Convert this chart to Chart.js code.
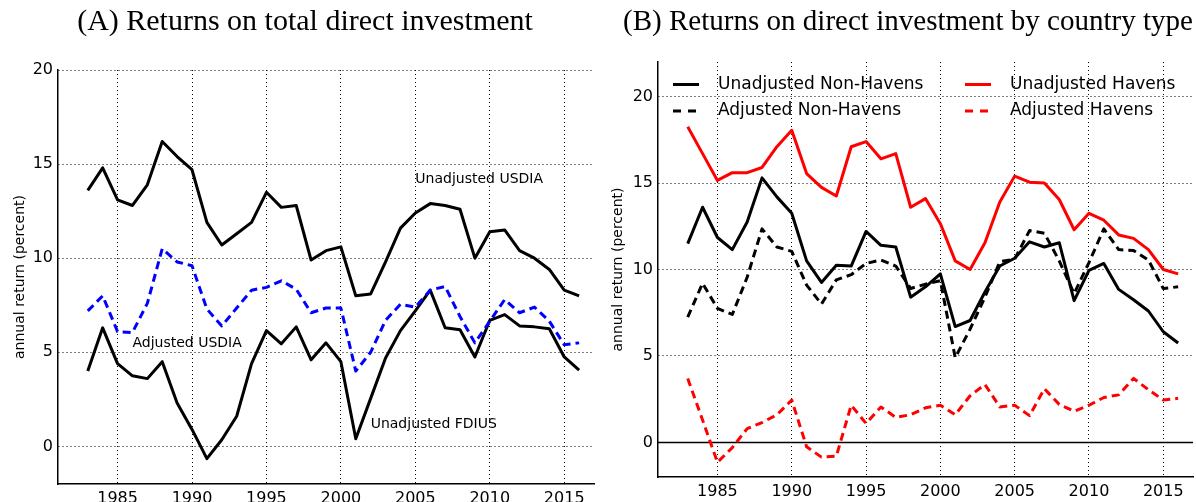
<!DOCTYPE html>
<html>
<head>
<meta charset="utf-8">
<script src="https://cdn.jsdelivr.net/npm/chart.js@4.4.1/dist/chart.umd.min.js"></script>
<style>
  body { margin: 0; background: #fff; }
  #wrap { position: relative; width: 1196px; height: 502px; overflow: hidden; }
  #panel-a { position: absolute; left: 0; top: 0; }
  #panel-b { position: absolute; left: 598px; top: 0; }
</style>
</head>
<body>
<div id="wrap">
  <canvas id="panel-a" width="598" height="502"></canvas>
  <canvas id="panel-b" width="598" height="502"></canvas>
</div>
<script>
const years = [1983, 1984, 1985, 1986, 1987, 1988, 1989, 1990, 1991, 1992, 1993, 1994,
  1995, 1996, 1997, 1998, 1999, 2000, 2001, 2002, 2003, 2004, 2005, 2006, 2007, 2008,
  2009, 2010, 2011, 2012, 2013, 2014, 2015, 2016];
const xTicks = [1985, 1990, 1995, 2000, 2005, 2010, 2015];
const yTicks = [0, 5, 10, 15, 20];

// panel A
const usdiaUnadj = [13.6, 14.8, 13.1, 12.8, 13.9, 16.2, 15.4, 14.7, 11.9, 10.7, 11.3, 11.9,
  13.5, 12.7, 12.8, 9.9, 10.4, 10.6, 8.0, 8.1, 9.8, 11.6, 12.4, 12.9, 12.8, 12.6,
  10.0, 11.4, 11.5, 10.4, 10.0, 9.4, 8.3, 8.0];
const usdiaAdj = [7.2, 8.0, 6.1, 6.05, 7.6, 10.5, 9.8, 9.6, 7.3, 6.4, 7.35, 8.3,
  8.45, 8.8, 8.35, 7.1, 7.35, 7.35, 4.0, 5.0, 6.7, 7.55, 7.4, 8.3, 8.5, 6.9,
  5.5, 6.65, 7.8, 7.1, 7.4, 6.65, 5.4, 5.5];
const fdiusUnadj = [4.0, 6.3, 4.4, 3.75, 3.6, 4.5, 2.3, 0.9, -0.65, 0.35, 1.6, 4.4,
  6.15, 5.45, 6.35, 4.6, 5.5, 4.5, 0.4, 2.55, 4.7, 6.15, 7.2, 8.3, 6.3, 6.2,
  4.75, 6.7, 7.0, 6.4, 6.35, 6.25, 4.75, 4.05];

// panel B
const nonHavensUnadj = [11.5, 13.6, 11.85, 11.15, 12.75, 15.3, 14.2, 13.25, 10.5, 9.25, 10.25, 10.2,
  12.2, 11.4, 11.3, 8.4, 9.0, 9.75, 6.7, 7.05, 8.7, 10.2, 10.65, 11.6, 11.3, 11.55,
  8.2, 9.95, 10.35, 8.85, 8.25, 7.6, 6.4, 5.75];
const nonHavensAdj = [7.25, 9.2, 7.75, 7.4, 9.55, 12.35, 11.3, 11.05, 9.1, 8.0, 9.4, 9.7,
  10.35, 10.55, 10.2, 8.9, 9.15, 9.35, 4.9, 6.55, 8.4, 10.45, 10.6, 12.25, 12.1, 10.5,
  8.6, 10.4, 12.35, 11.15, 11.1, 10.55, 8.9, 9.0];
const havensUnadj = [18.25, 16.7, 15.15, 15.6, 15.6, 15.9, 17.1, 18.05, 15.55, 14.75, 14.25, 17.1,
  17.4, 16.4, 16.7, 13.6, 14.1, 12.65, 10.5, 10.0, 11.55, 13.9, 15.4, 15.05, 15.0, 14.05,
  12.3, 13.25, 12.85, 12.0, 11.8, 11.15, 10.0, 9.75];
const havensAdj = [3.7, 1.3, -1.15, -0.3, 0.8, 1.15, 1.6, 2.45, -0.25, -0.85, -0.8, 2.15,
  1.1, 2.05, 1.45, 1.6, 2.0, 2.15, 1.6, 2.7, 3.35, 2.05, 2.15, 1.55, 3.1, 2.2,
  1.8, 2.15, 2.6, 2.75, 3.7, 3.05, 2.45, 2.55];

const pts = vals => years.map((yr, i) => ({ x: yr, y: vals[i] }));

const sansFont = 'DejaVu Sans';
const gridColor = '#000';

function line(label, vals, color, dashed) {
  return {
    label: label,
    data: pts(vals),
    borderColor: color,
    borderWidth: 3,
    borderDash: dashed ? [8, 5] : [],
    borderJoinStyle: 'round',
    pointRadius: 0,
    tension: 0,
    fill: false
  };
}

// yWidth + layout left padding gives the plot's left edge;
// titlePad moves the rotated axis title back to the canvas edge
function scales(yMin, yMax, yWidth, xHeight, titlePad) {
  return {
    x: {
      type: 'linear',
      min: 1981,
      max: 2017,
      afterBuildTicks: ax => { ax.ticks = xTicks.map(v => ({ value: v })); },
      afterFit: ax => { ax.height = xHeight; },
      grid: { color: gridColor, lineWidth: 1, drawTicks: false },
      border: { display: true, color: '#000', width: 1.5, dash: [1, 3] },
      ticks: {
        color: '#000',
        font: { family: sansFont, size: 16 },
        padding: 5,
        maxRotation: 0,
        callback: v => String(v)
      }
    },
    y: {
      min: yMin,
      max: yMax,
      afterBuildTicks: ax => { ax.ticks = yTicks.map(v => ({ value: v })); },
      afterFit: ax => { ax.width = yWidth; },
      grid: { color: gridColor, lineWidth: 1, drawTicks: false },
      border: { display: true, color: '#000', width: 1.5, dash: [1, 3] },
      ticks: {
        color: '#000',
        font: { family: sansFont, size: 16 },
        padding: 5,
        callback: v => String(v)
      },
      title: {
        display: true,
        text: 'annual return (percent)',
        color: '#000',
        font: { family: sansFont, size: 14 },
        padding: { top: titlePad }
      }
    }
  };
}

function titleOpts(text, bottom) {
  return {
    display: true,
    text: text,
    color: '#000',
    font: { family: 'Liberation Serif', size: 30, weight: 'normal' },
    padding: { top: 4, bottom: bottom }
  };
}

// text labels placed at data coordinates
const notes = {
  id: 'notes',
  afterDatasetsDraw(chart, args, opts) {
    const { ctx, scales: { x, y } } = chart;
    ctx.save();
    ctx.font = '14px ' + sansFont;
    ctx.fillStyle = '#000';
    ctx.textBaseline = 'alphabetic';
    (opts.items || []).forEach(n => {
      ctx.fillText(n.text, x.getPixelForValue(n.x), y.getPixelForValue(n.y));
    });
    ctx.restore();
  }
};

const zeroLine = {
  id: 'zeroLine',
  beforeDatasetsDraw(chart) {
    const { ctx, chartArea, scales: { y } } = chart;
    const py = Math.round(y.getPixelForValue(0)) + 0.5;
    ctx.save();
    ctx.strokeStyle = '#000';
    ctx.lineWidth = 1.5;
    ctx.beginPath();
    ctx.moveTo(chartArea.left, py);
    ctx.lineTo(chartArea.right, py);
    ctx.stroke();
    ctx.restore();
  }
};

// two-column legend drawn inside the plot area
const cornerLegend = {
  id: 'cornerLegend',
  afterDatasetsDraw(chart, args, opts) {
    const { ctx, chartArea } = chart;
    ctx.save();
    ctx.font = opts.size + 'px ' + sansFont;
    ctx.textBaseline = 'middle';
    chart.data.datasets.forEach((ds, i) => {
      const x = chartArea.left + opts.colX[opts.col[i]];
      const y = chartArea.top + opts.rowY[opts.row[i]];
      ctx.strokeStyle = ds.borderColor;
      ctx.lineWidth = ds.borderWidth;
      ctx.setLineDash(ds.borderDash.length ? [8, 7] : []);
      ctx.beginPath();
      ctx.moveTo(x, y);
      ctx.lineTo(x + 26, y);
      ctx.stroke();
      ctx.setLineDash([]);
      ctx.fillStyle = '#000';
      ctx.fillText(ds.label, x + 45, y);
    });
    ctx.restore();
  }
};

new Chart(document.getElementById('panel-a'), {
  type: 'line',
  data: {
    datasets: [
      line('Unadjusted USDIA', usdiaUnadj, '#000000', false),
      line('Adjusted USDIA', usdiaAdj, '#0000ff', true),
      line('Unadjusted FDIUS', fdiusUnadj, '#000000', false)
    ]
  },
  options: {
    responsive: false,
    animation: false,
    layout: { padding: { left: 16, right: 4, top: 0, bottom: 0 } },
    plugins: {
      legend: { display: false },
      tooltip: { enabled: false },
      title: titleOpts('(A) Returns on total direct investment', 30),
      notes: {
        items: [
          { text: 'Unadjusted USDIA', x: 2005, y: 14 },
          { text: 'Adjusted USDIA', x: 1986, y: 5.28 },
          { text: 'Unadjusted FDIUS', x: 2002, y: 0.97 }
        ]
      }
    },
    scales: scales(-2, 20, 42, 18, -4.5)
  },
  plugins: [notes]
});

new Chart(document.getElementById('panel-b'), {
  type: 'line',
  data: {
    datasets: [
      line('Unadjusted Non-Havens', nonHavensUnadj, '#000000', false),
      line('Adjusted Non-Havens', nonHavensAdj, '#000000', true),
      line('Unadjusted Havens', havensUnadj, '#ff0000', false),
      line('Adjusted Havens', havensAdj, '#ff0000', true)
    ]
  },
  options: {
    responsive: false,
    animation: false,
    layout: { padding: { left: 25, right: 3, top: 0, bottom: 0 } },
    plugins: {
      legend: { display: false },
      tooltip: { enabled: false },
      title: titleOpts('(B) Returns on direct investment by country type', 22),
      cornerLegend: {
        size: 17,
        col: [0, 0, 1, 1],
        row: [0, 1, 0, 1],
        colX: [15, 307],
        rowY: [22.5, 49]
      }
    },
    scales: scales(-2, 22, 35, 25, -13)
  },
  plugins: [zeroLine, cornerLegend]
});
</script>
</body>
</html>
